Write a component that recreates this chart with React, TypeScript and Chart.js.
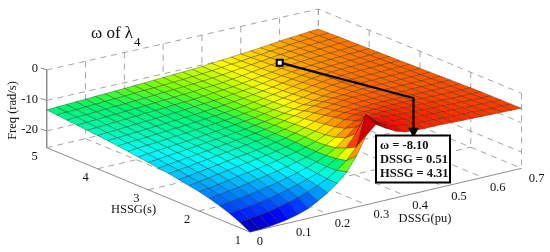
import React, { useEffect, useRef } from "react";
import { Chart, registerables } from "chart.js";

Chart.register(...registerables);

const dssgTicks = [0, 0.1, 0.2, 0.3, 0.4, 0.5, 0.6, 0.7];
const hssgTicks = [1, 2, 3, 4, 5];
const freqTicks = [0, -10, -20];
const dssgGrid = [0,0.025,0.05,0.075,0.1,0.125,0.15,0.175,0.2,0.225,0.25,0.275,0.3,0.325,0.35,0.375,0.4,0.425,0.45,0.475,0.5,0.525,0.55,0.575,0.6,0.625,0.65,0.675,0.7];
const hssgGrid = [1,1.2,1.4,1.6,1.8,2,2.2,2.4,2.6,2.8,3,3.2,3.4,3.6,3.8,4,4.2,4.4,4.6,4.8,5];

const freqH10 = [-25.5,-25.4,-25.2,-24.8,-24.2,-23.4,-22.3,-20.6,-18.6,-16.2,-13.1,-8.5,-2.4,0.5,-1.5,-3.1,-4.2,-4.4,-4.5,-4.5,-4.5,-4.6,-4.7,-4.7,-4.8,-4.9,-4.9,-5,-5.1];
const freqH12 = [-23.7,-23.3,-22.9,-22.4,-21.7,-20.9,-20,-18.9,-17.6,-16,-14,-11.5,-7.8,2.4,-0.5,-2.6,-3.7,-4.1,-4.3,-4.4,-4.5,-4.6,-4.7,-4.8,-4.8,-4.9,-5,-5,-5.1];
const freqH14 = [-22.2,-21.8,-21.4,-20.9,-20.3,-19.6,-18.8,-17.9,-16.9,-15.7,-14.2,-12.2,-9.5,-5.4,-3,-3.3,-3.7,-4,-4.2,-4.4,-4.5,-4.6,-4.7,-4.8,-4.9,-5,-5,-5.1,-5.1];
const freqH16 = [-21,-20.6,-20.2,-19.7,-19.1,-18.5,-17.8,-17,-16.1,-15.2,-14,-12.6,-10.8,-8.2,-5.4,-4.2,-3.9,-4,-4.3,-4.4,-4.5,-4.7,-4.8,-4.9,-5,-5,-5.1,-5.1,-5.2];
const freqH18 = [-20,-19.6,-19.1,-18.6,-18,-17.4,-16.8,-16.2,-15.5,-14.7,-13.8,-12.7,-11.3,-9.4,-7.2,-5.4,-4.8,-4.6,-4.5,-4.6,-4.7,-4.8,-4.9,-5,-5.1,-5.2,-5.2,-5.2,-5.2];
const freqH20 = [-19.2,-18.8,-18.3,-17.7,-17.1,-16.6,-16.1,-15.5,-14.9,-14.2,-13.5,-12.6,-11.5,-10,-8.1,-6.4,-5.4,-5.2,-5.1,-5,-5,-5,-5.1,-5.2,-5.2,-5.3,-5.3,-5.3,-5.3];
const freqH22 = [-18.6,-18.1,-17.6,-17,-16.5,-16,-15.5,-15,-14.5,-13.9,-13.2,-12.4,-11.4,-10.2,-8.6,-7,-6.2,-5.9,-5.7,-5.5,-5.4,-5.4,-5.4,-5.4,-5.4,-5.4,-5.4,-5.4,-5.4];
const freqH24 = [-18,-17.6,-17.1,-16.6,-16.1,-15.6,-15.1,-14.7,-14.2,-13.7,-13.1,-12.4,-11.5,-10.4,-9.1,-7.8,-6.9,-6.4,-6.1,-5.9,-5.8,-5.7,-5.7,-5.7,-5.6,-5.6,-5.6,-5.5,-5.5];
const freqH26 = [-17.4,-17,-16.6,-16.1,-15.7,-15.2,-14.8,-14.3,-13.9,-13.4,-12.9,-12.3,-11.6,-10.7,-9.6,-8.4,-7.5,-6.9,-6.4,-6.1,-6,-5.9,-5.9,-5.9,-5.8,-5.8,-5.7,-5.7,-5.6];
const freqH28 = [-17,-16.6,-16.2,-15.8,-15.4,-15,-14.6,-14.2,-13.8,-13.3,-12.9,-12.3,-11.7,-10.9,-10,-9.1,-8.2,-7.5,-7,-6.7,-6.4,-6.2,-6.1,-6,-6,-5.9,-5.8,-5.8,-5.7];
const freqH30 = [-16.5,-16.2,-15.8,-15.5,-15.2,-14.8,-14.4,-14.1,-13.7,-13.3,-12.9,-12.4,-11.9,-11.3,-10.6,-9.9,-9.2,-8.5,-7.8,-7.2,-6.7,-6.5,-6.3,-6.2,-6.1,-6.1,-6,-5.9,-5.8];
const freqH32 = [-16.1,-15.8,-15.5,-15.2,-14.9,-14.6,-14.3,-13.9,-13.6,-13.2,-12.8,-12.4,-12,-11.4,-10.8,-10.2,-9.5,-8.9,-8.2,-7.5,-7,-6.7,-6.5,-6.4,-6.3,-6.2,-6.1,-6,-5.9];
const freqH34 = [-15.7,-15.4,-15.1,-14.9,-14.6,-14.3,-14,-13.7,-13.4,-13.1,-12.8,-12.4,-12,-11.5,-11,-10.4,-9.8,-9.2,-8.5,-7.9,-7.3,-6.9,-6.7,-6.5,-6.4,-6.3,-6.2,-6.1,-6];
const freqH36 = [-15.3,-15,-14.8,-14.6,-14.3,-14.1,-13.8,-13.6,-13.3,-13,-12.7,-12.4,-12,-11.6,-11.1,-10.6,-10,-9.5,-8.8,-8.2,-7.6,-7.2,-6.9,-6.7,-6.6,-6.5,-6.3,-6.2,-6.1];
const freqH38 = [-14.9,-14.7,-14.5,-14.3,-14.1,-13.8,-13.6,-13.4,-13.1,-12.9,-12.6,-12.3,-12,-11.6,-11.2,-10.7,-10.2,-9.7,-9.1,-8.5,-8,-7.5,-7.2,-7,-6.8,-6.6,-6.5,-6.3,-6.2];
const freqH40 = [-14.6,-14.4,-14.2,-14,-13.8,-13.6,-13.4,-13.2,-13,-12.7,-12.4,-12.2,-11.9,-11.6,-11.2,-10.8,-10.4,-9.9,-9.3,-8.8,-8.2,-7.8,-7.5,-7.2,-7,-6.8,-6.6,-6.5,-6.3];
const freqH42 = [-14.3,-14.1,-13.9,-13.7,-13.5,-13.3,-13.1,-12.9,-12.7,-12.5,-12.3,-12.1,-11.8,-11.5,-11.2,-10.9,-10.5,-10,-9.5,-9,-8.5,-8,-7.7,-7.4,-7.2,-7,-6.8,-6.6,-6.4];
const freqH44 = [-14,-13.8,-13.6,-13.4,-13.3,-13.1,-12.9,-12.7,-12.5,-12.3,-12.1,-11.9,-11.7,-11.4,-11.2,-10.9,-10.5,-10.1,-9.6,-9.2,-8.7,-8.3,-7.9,-7.6,-7.3,-7.1,-6.9,-6.7,-6.5];
const freqH46 = [-13.7,-13.5,-13.4,-13.2,-13,-12.8,-12.7,-12.5,-12.3,-12.1,-11.9,-11.7,-11.5,-11.3,-11.1,-10.8,-10.5,-10.1,-9.7,-9.3,-8.9,-8.5,-8.1,-7.8,-7.5,-7.2,-7,-6.8,-6.6];
const freqH48 = [-13.4,-13.2,-13.1,-12.9,-12.8,-12.6,-12.4,-12.3,-12.1,-11.9,-11.8,-11.6,-11.4,-11.2,-11,-10.8,-10.5,-10.2,-9.8,-9.5,-9.1,-8.8,-8.4,-8.1,-7.7,-7.4,-7.2,-6.9,-6.7];
const freqH50 = [-13.1,-12.9,-12.8,-12.6,-12.5,-12.3,-12.2,-12,-11.9,-11.7,-11.6,-11.4,-11.2,-11,-10.9,-10.7,-10.5,-10.2,-9.9,-9.6,-9.3,-9,-8.7,-8.3,-7.9,-7.6,-7.3,-7,-6.8];
const freqRows = [freqH10,freqH12,freqH14,freqH16,freqH18,freqH20,freqH22,freqH24,freqH26,freqH28,freqH30,freqH32,freqH34,freqH36,freqH38,freqH40,freqH42,freqH44,freqH46,freqH48,freqH50];

const cursorDSSG = 0.51;
const cursorHSSG = 4.31;
const cursorFreq = -7.6;
const cursorLines = ["\u03c9 = -8.10", "DSSG = 0.51", "HSSG = 4.31"];

const zFloor = -25.5;
const project = (d: number, h: number, z: number) => ({
  x: 46.7 + 50.8 * (5 - h) + 388.1 * d,
  y: 147.7 + 21.08 * (5 - h) - 91 * d - (z - zFloor) * (3.05 - 0.157 * d),
});

const colorStops: [number, number, number, number][] = [
  [-25.5, 0, 0, 130],
  [-23.5, 0, 0, 255],
  [-15.7, 0, 255, 255],
  [-12.9, 0, 245, 110],
  [-11.5, 130, 255, 0],
  [-10, 255, 255, 0],
  [-7.5, 255, 150, 0],
  [-5.5, 255, 80, 0],
  [-3.5, 255, 0, 0],
  [1.5, 120, 0, 0],
];
const colorOf = (z: number) => {
  if (z <= colorStops[0][0]) return `rgb(${colorStops[0].slice(1).join(",")})`;
  for (let i = 1; i < colorStops.length; i++) {
    const a = colorStops[i - 1];
    const b = colorStops[i];
    if (z <= b[0]) {
      const t = (z - a[0]) / (b[0] - a[0]);
      return `rgb(${Math.round(a[1] + (b[1] - a[1]) * t)},${Math.round(a[2] + (b[2] - a[2]) * t)},${Math.round(a[3] + (b[3] - a[3]) * t)})`;
    }
  }
  return "rgb(120,0,0)";
};

const base = { showLine: true, pointRadius: 0, pointHoverRadius: 0, tension: 0, clip: false as const };
const GRID = "#9a9a9a";
const AXIS = "#8c8c8c";
const segment = (pts: { x: number; y: number }[], color: string, width: number, dash: number[] = []) => ({
  ...base,
  data: pts,
  borderColor: color,
  borderWidth: width,
  borderDash: dash,
  fill: false,
});

const buildDatasets = () => {
  const out: any[] = [];
  const m = project(cursorDSSG, cursorHSSG, cursorFreq);
  out.push({
    ...base,
    data: [m],
    pointRadius: 4.2,
    pointStyle: "rect",
    pointBackgroundColor: "#fff",
    pointBorderColor: "#000",
    pointBorderWidth: 2,
    showLine: false,
  });
  out.push({
    ...base,
    data: [{ x: 413.5, y: 131 }],
    pointRadius: 5.5,
    pointStyle: "triangle",
    rotation: 180,
    pointBackgroundColor: "#000",
    pointBorderColor: "#000",
    showLine: false,
  });
  out.push(segment([m, { x: 413.5, y: 98 }, { x: 413.5, y: 130 }], "#000", 2.2));

  for (let i = 0; i < hssgGrid.length - 1; i++) {
    for (let j = 0; j < dssgGrid.length - 1; j++) {
      const z00 = freqRows[i][j];
      const z01 = freqRows[i][j + 1];
      const z11 = freqRows[i + 1][j + 1];
      const z10 = freqRows[i + 1][j];
      const pts = [
        project(dssgGrid[j], hssgGrid[i], z00),
        project(dssgGrid[j + 1], hssgGrid[i], z01),
        project(dssgGrid[j + 1], hssgGrid[i + 1], z11),
        project(dssgGrid[j], hssgGrid[i + 1], z10),
        project(dssgGrid[j], hssgGrid[i], z00),
      ];
      const c = colorOf((z00 + z01 + z11 + z10) / 4);
      out.push({
        ...base,
        data: pts,
        fill: "shape",
        backgroundColor: c,
        borderColor: "rgba(30,30,0,0.55)",
        borderWidth: 0.6,
      });
    }
  }

  const dash = [6, 5];
  const zTop = 0;
  for (const z of freqTicks) {
    out.push(segment([project(0, 5, z), project(0.7, 5, z), project(0.7, 1, z)], GRID, 0.9, dash));
  }
  for (const d of dssgTicks.slice(1)) {
    out.push(segment([project(d, 5, zTop), project(d, 5, zFloor)], GRID, 0.9, dash));
    out.push(segment([project(d, 5, zFloor), project(d, 1, zFloor)], GRID, 0.9, dash));
  }
  for (const h of hssgTicks) {
    out.push(segment([project(0.7, h, zTop), project(0.7, h, zFloor)], GRID, 0.9, dash));
    if (h > 1) out.push(segment([project(0, h, zFloor), project(0.7, h, zFloor)], GRID, 0.9, dash));
  }
  out.push(segment([project(0, 5, 0), project(0, 5, zFloor), project(0, 1, zFloor), project(0.7, 1, zFloor)], AXIS, 1));
  for (const z of freqTicks) {
    const p = project(0, 5, z);
    out.push(segment([{ x: p.x - 6, y: p.y - 2 }, p], AXIS, 1));
  }
  return out;
};

const labelsPlugin = {
  id: "labels3d",
  afterDatasetsDraw(chart: any) {
    const { ctx, scales } = chart;
    const X = (v: number) => scales.x.getPixelForValue(v);
    const Y = (v: number) => scales.y.getPixelForValue(v);
    ctx.save();
    ctx.fillStyle = "#fff";
    ctx.strokeStyle = "#000";
    ctx.lineWidth = 2;
    ctx.fillRect(X(376), Y(135.5), 74, 47);
    ctx.strokeRect(X(376), Y(135.5), 74, 47);
    ctx.fillStyle = "#111";
    ctx.textBaseline = "middle";
    ctx.textAlign = "left";
    ctx.font = 'bold 12.5px "Liberation Serif"';
    cursorLines.forEach((t, i) => ctx.fillText(t, X(380), Y(145.5 + i * 14)));

    ctx.font = '12.5px "Liberation Serif"';
    ctx.fillStyle = "#111";
    ctx.textAlign = "center";
    freqTicks.forEach((z) => {
      ctx.textAlign = "right";
      ctx.fillText(String(z), X(38), Y(project(0, 5, z).y - 1));
    });
    ctx.textAlign = "center";
    hssgTicks.forEach((h) => {
      const p = project(0, h, zFloor);
      ctx.fillText(String(h), X(p.x - 12), Y(p.y + 9));
    });
    dssgTicks.forEach((d) => {
      const p = project(d, 1, zFloor);
      const label = d === 0 ? "0" : d.toFixed(1);
      ctx.fillText(label, X(p.x + 15 - (d === 0 ? 5 : 0)), Y(p.y + 10));
    });
    ctx.fillText("HSSG(s)", X(133.5), Y(210));
    ctx.fillText("DSSG(pu)", X(425), Y(219));
    ctx.save();
    ctx.translate(X(12.5), Y(110.5));
    ctx.rotate(-Math.PI / 2);
    ctx.fillText("Freq (rad/s)", 0, 0);
    ctx.restore();

    ctx.fillStyle = "#111";
    ctx.textAlign = "left";
    ctx.textBaseline = "alphabetic";
    ctx.font = '17px "Liberation Serif"';
    ctx.fillText("\u03c9 of \u03bb", X(91), Y(38));
    ctx.font = '13px "Liberation Serif"';
    ctx.fillText("4", X(134), Y(46));
    ctx.restore();
  },
};

export default function App() {
  const ref = useRef<HTMLCanvasElement>(null);
  useEffect(() => {
    if (!ref.current) return;
    const chart = new Chart(ref.current, {
      type: "scatter",
      data: { datasets: buildDatasets() },
      options: {
        animation: false,
        responsive: false,
        layout: { padding: 0, autoPadding: false },
        plugins: { legend: { display: false }, tooltip: { enabled: false }, title: { display: false } },
        events: [],
        scales: {
          x: { type: "linear", display: false, min: 0, max: 550 },
          y: { type: "linear", display: false, min: 0, max: 252, reverse: true },
        },
      },
      plugins: [labelsPlugin],
    } as any);
    return () => chart.destroy();
  }, []);
  return (
    <div style={{ position: "absolute", left: 0, top: 0, width: 550, height: 252, background: "#fff" }}>
      <canvas ref={ref} width={550} height={252} style={{ display: "block" }} />
    </div>
  );
}
